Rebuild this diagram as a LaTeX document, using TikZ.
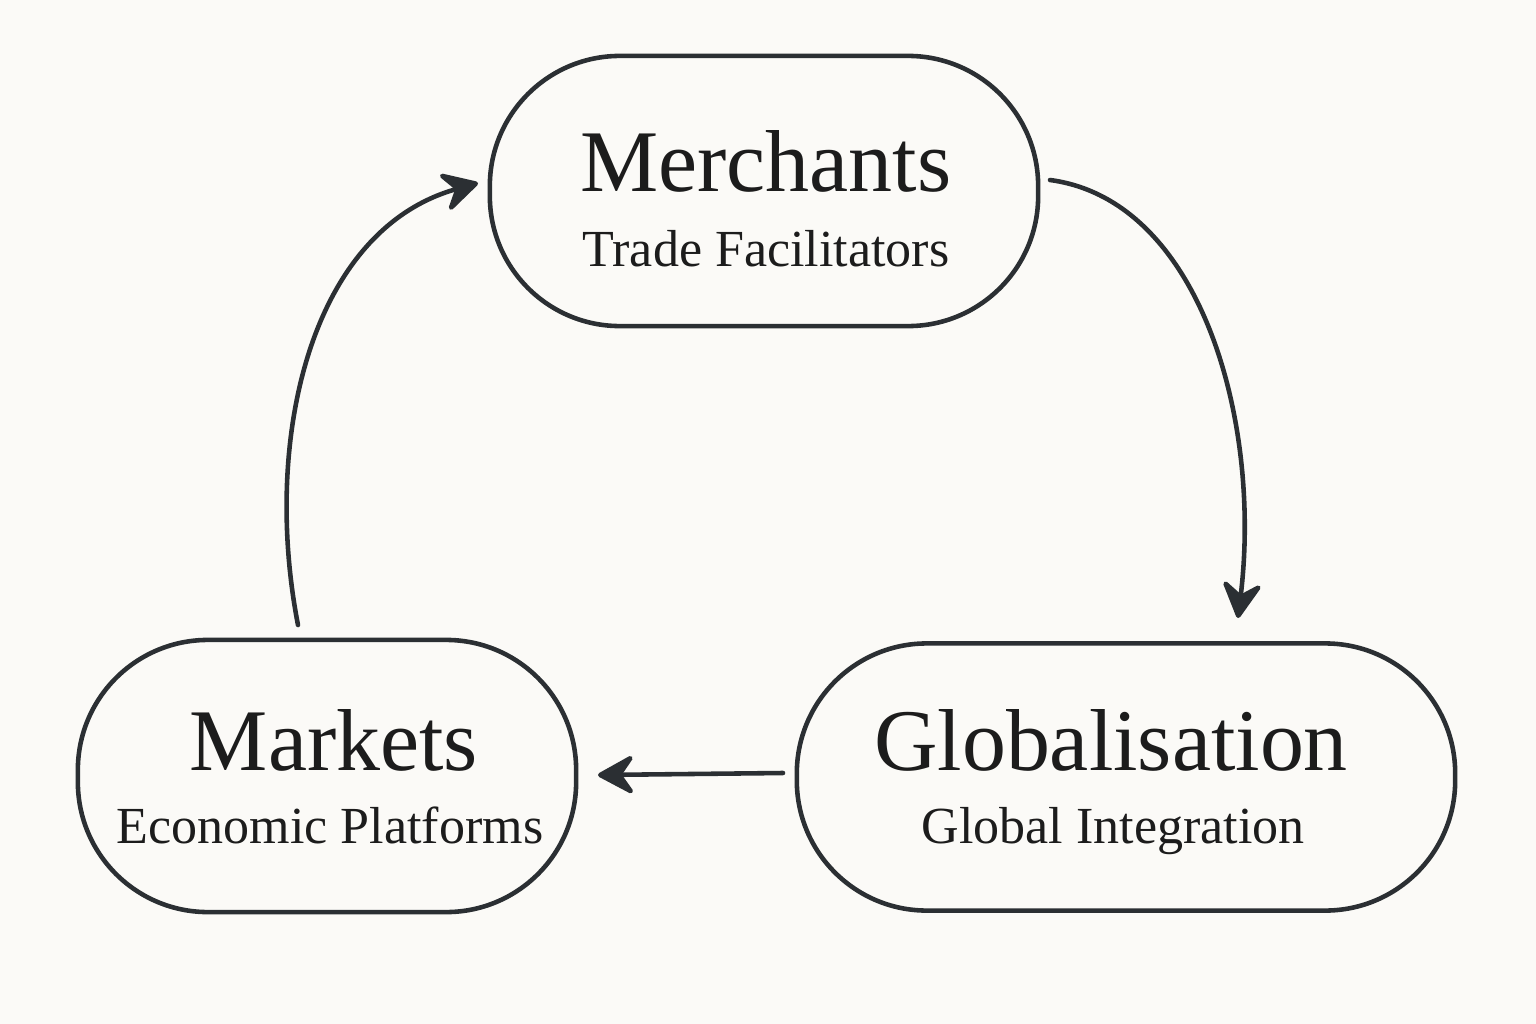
\documentclass[tikz,border=0pt]{standalone}
\usepackage{fontspec}
\setmainfont{Liberation Serif}
\usetikzlibrary{arrows.meta}
\definecolor{bg}{HTML}{FBFAF7}
\definecolor{ink}{HTML}{2B2F33}
\definecolor{txt}{HTML}{1C1C1C}
\tikzset{
  box/.style={draw=ink, line width=1.3pt, rounded corners=1.3cm, inner sep=0pt},
  title/.style={anchor=base, text=txt, font=\fontsize{25pt}{28pt}\selectfont},
  sub/.style={anchor=base, text=txt, font=\fontsize{14.8pt}{17pt}\selectfont},
  conn/.style={draw=ink, line width=1.3pt, line cap=round,
    -{Stealth[length=12pt, width=13pt, inset=4.5pt, round]}}
}
\begin{document}
\begin{tikzpicture}[x=0.01cm, y=-0.01cm]
\fill[bg] (0,0) rectangle (1536,1024);
\useasboundingbox (0,0) rectangle (1536,1024);
\node[box, minimum width=5.48cm, minimum height=2.7cm] (merch) at (764,191) {};
\node[box, minimum width=4.98cm, minimum height=2.72cm] (mark) at (327,776) {};
\node[box, minimum width=6.58cm, minimum height=2.67cm] (glob) at (1126,777) {};
\node[title] (t1) at (766,191) {Merchants};
\node[sub] (s1) at (766,266) {Trade Facilitators};
\node[title] (t2) at (334,770) {Markets};
\node[sub] (s2) at (330,843) {Economic Platforms};
\node[title] (t3) at (1111,770) {Globalisation};
\node[sub] (s3) at (1113,843) {Global Integration};
\coordinate (a1s) at (298,625);
\coordinate (a1e) at (478,183);
\coordinate (a2s) at (1050,180);
\coordinate (a2e) at (1238,618);
\coordinate (a3s) at (783,773);
\coordinate (a3e) at (598,775);
\draw[conn] (a1s) .. controls (262,440) and (310,230) .. (a1e);
\draw[conn] (a2s) .. controls (1200,200) and (1262,420) .. (a2e);
\draw[conn] (a3s) -- (a3e);
\end{tikzpicture}
\end{document}
